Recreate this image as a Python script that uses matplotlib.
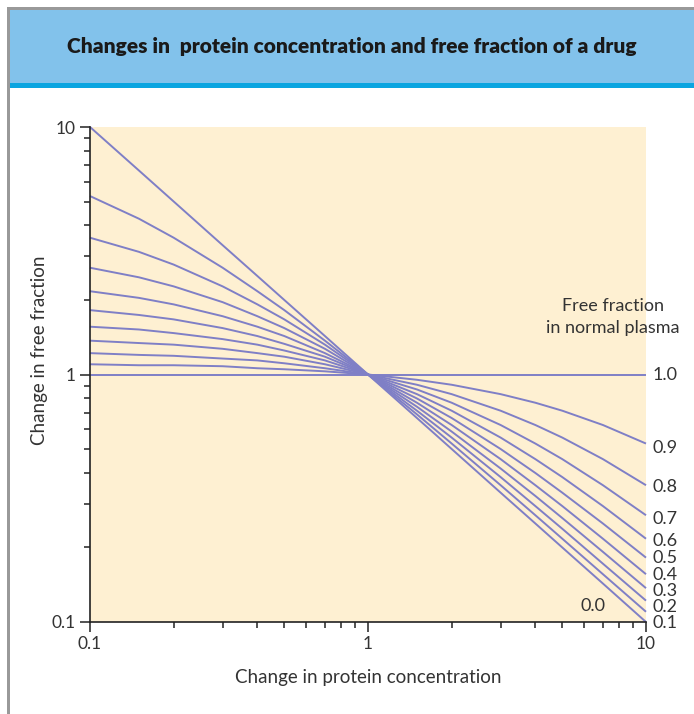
import matplotlib
matplotlib.use("Agg")
import matplotlib.pyplot as plt
import matplotlib.transforms as mtransforms
from matplotlib.patches import Rectangle
from matplotlib.ticker import LogLocator, FixedLocator, NullFormatter

# ---- data ----
protein_change = [0.1, 0.15, 0.2, 0.3, 0.4, 0.5, 0.7, 1.0, 1.5, 2.0, 3.0, 4.0, 5.0, 7.0, 10.0]
free_fractions = ["0.0", "0.1", "0.2", "0.3", "0.4", "0.5", "0.6", "0.7", "0.8", "0.9", "1.0"]
ff_00 = [10.0, 6.67, 5.0, 3.33, 2.50, 2.0, 1.43, 1.0, 0.667, 0.5, 0.333, 0.250, 0.2, 0.143, 0.1]
ff_01 = [5.26, 4.26, 3.57, 2.70, 2.17, 1.82, 1.37, 1.0, 0.690, 0.526, 0.357, 0.270, 0.217, 0.156, 0.110]
ff_02 = [3.57, 3.13, 2.78, 2.27, 1.92, 1.67, 1.32, 1.0, 0.714, 0.556, 0.385, 0.294, 0.238, 0.172, 0.122]
ff_03 = [2.70, 2.47, 2.27, 1.96, 1.72, 1.54, 1.27, 1.0, 0.741, 0.588, 0.417, 0.323, 0.263, 0.192, 0.137]
ff_04 = [2.17, 2.04, 1.92, 1.72, 1.56, 1.43, 1.22, 1.0, 0.769, 0.625, 0.455, 0.357, 0.294, 0.217, 0.156]
ff_05 = [1.82, 1.74, 1.67, 1.54, 1.43, 1.33, 1.18, 1.0, 0.800, 0.667, 0.500, 0.400, 0.333, 0.250, 0.182]
ff_06 = [1.56, 1.52, 1.47, 1.39, 1.32, 1.25, 1.14, 1.0, 0.833, 0.714, 0.556, 0.455, 0.385, 0.294, 0.217]
ff_07 = [1.37, 1.34, 1.32, 1.27, 1.22, 1.18, 1.10, 1.0, 0.870, 0.769, 0.625, 0.526, 0.455, 0.357, 0.270]
ff_08 = [1.22, 1.20, 1.19, 1.16, 1.14, 1.11, 1.06, 1.0, 0.909, 0.833, 0.714, 0.625, 0.556, 0.455, 0.357]
ff_09 = [1.10, 1.09, 1.09, 1.08, 1.06, 1.05, 1.03, 1.0, 0.952, 0.909, 0.833, 0.769, 0.714, 0.625, 0.526]
ff_10 = [1.0] * 15
series = [ff_00, ff_01, ff_02, ff_03, ff_04, ff_05, ff_06, ff_07, ff_08, ff_09, ff_10]

# label placement (y positions in data units for right-hand labels)
label_y = [None, 0.099, 0.115, 0.1334, 0.155, 0.1814, 0.2125, 0.261, 0.351, 0.505, 0.995]

title = "Changes in  protein concentration and free fraction of a drug"
xlabel = "Change in protein concentration"
ylabel = "Change in free fraction"

W, H = 694, 714
LINE = "#7f7fc6"
BG = "#fef0d2"
TXT = "#333333"
FONT = "Lato"

fig = plt.figure(figsize=(W / 100, H / 100), dpi=100)
fig.patch.set_facecolor("white")

def fx(px):
    return px / W

def fy(py):
    return 1 - py / H

# frame / header
fig.add_artist(Rectangle((fx(7), fy(714)), fx(3), fy(7) - fy(714), transform=fig.transFigure,
                         facecolor="#999999", edgecolor="none"))
fig.add_artist(Rectangle((fx(7), fy(10)), 1, fy(7) - fy(10), transform=fig.transFigure,
                         facecolor="#999999", edgecolor="none"))
fig.add_artist(Rectangle((fx(10), fy(83)), 1, fy(10) - fy(83), transform=fig.transFigure,
                         facecolor="#82c2eb", edgecolor="none"))
fig.add_artist(Rectangle((fx(10), fy(88)), 1, fy(83) - fy(88), transform=fig.transFigure,
                         facecolor="#0aa5e0", edgecolor="none"))
fig.text(fx(352), fy(47), title, ha="center", va="center", fontsize=15,
         fontweight="heavy", color="#1a1a1a", family=FONT)

ax = fig.add_axes([fx(90), fy(622), fx(646) - fx(90), fy(127) - fy(622)])
ax.set_facecolor(BG)
ax.set_xscale("log")
ax.set_yscale("log")
ax.set_xlim(0.1, 10)
ax.set_ylim(0.1, 10)

for vals in series:
    ax.plot(protein_change, vals, color=LINE, lw=1.4, solid_capstyle="butt", clip_on=False)

for s in ["top", "right"]:
    ax.spines[s].set_visible(False)
for s in ["left", "bottom"]:
    ax.spines[s].set_color("#222222")
    ax.spines[s].set_linewidth(1.2)

ax.xaxis.set_major_locator(FixedLocator([0.1, 1, 10]))
ax.yaxis.set_major_locator(FixedLocator([0.1, 1, 10]))
ax.set_xticklabels(["0.1", "1", "10"])
ax.set_yticklabels(["0.1", "1", "10"])
ax.xaxis.set_minor_locator(LogLocator(base=10, subs=range(2, 10)))
ax.yaxis.set_minor_locator(LogLocator(base=10, subs=range(2, 10)))
ax.xaxis.set_minor_formatter(NullFormatter())
ax.yaxis.set_minor_formatter(NullFormatter())
ax.tick_params(which="major", direction="out", length=7, width=1.1, color="#222222",
               labelsize=12.5, labelcolor=TXT, pad=3)
ax.tick_params(which="minor", direction="out", length=4.5, width=1.1, color="#222222")
for lab in ax.get_xticklabels() + ax.get_yticklabels():
    lab.set_family(FONT)

ax.set_xlabel(xlabel, fontsize=13.5, color=TXT, family=FONT)
ax.set_ylabel(ylabel, fontsize=13.5, color=TXT, family=FONT)
ax.xaxis.set_label_coords((368 - 90) / 556, -(678 - 622) / 495)
ax.yaxis.set_label_coords(-(90 - 40) / 556, (622 - 350) / 495)
ax.xaxis.label.set_va("center")
ax.yaxis.label.set_va("center")

trans = mtransforms.blended_transform_factory(ax.transAxes, ax.transData)
for name, yv in zip(free_fractions, label_y):
    if yv is None:
        continue
    ax.text(1.012, yv, name, transform=trans, ha="left", va="center", fontsize=13,
            color=TXT, family=FONT, clip_on=False)
ax.text(6.45, 0.116, free_fractions[0], ha="center", va="center", fontsize=13,
        color=TXT, family=FONT)
fig.text(fx(613), fy(317), "Free fraction\nin normal plasma", ha="center", va="center",
         fontsize=13, color=TXT, family=FONT, linespacing=1.4)

fig.savefig("out.png", dpi=100, facecolor="white")
